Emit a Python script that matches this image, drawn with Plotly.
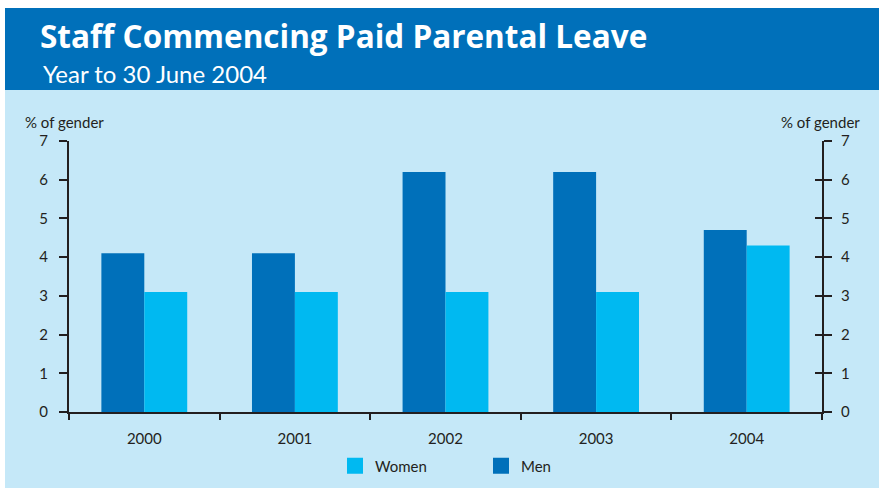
import plotly.graph_objects as go

# Data
years = ["2000", "2001", "2002", "2003", "2004"]
men = [4.1, 4.1, 6.2, 6.2, 4.7]
women = [3.1, 3.1, 3.1, 3.1, 4.3]
y_ticks = [0, 1, 2, 3, 4, 5, 6, 7]

W, H = 879, 488
HEADER_BLUE = "#0070BA"
PANEL = "#C5E8F8"
MEN_C = "#0070BA"
WOMEN_C = "#00B9F1"
INK = "#231F20"
FONT = "Lato"


def px_x(x):
    return x / W


def px_y(y):
    return 1 - y / H


x_dom = [px_x(69), px_x(822)]
y_dom = [px_y(412), px_y(141)]

fig = go.Figure()
fig.add_trace(go.Bar(x=years, y=men, name="Men", marker_color=MEN_C,
                     marker_line_width=0, showlegend=False))
fig.add_trace(go.Bar(x=years, y=women, name="Women", marker_color=WOMEN_C,
                     marker_line_width=0, showlegend=False))

# legend entries with larger square swatches
fig.add_trace(go.Scatter(x=[None], y=[None], mode="markers", name="Women",
                         marker=dict(symbol="square", size=17, color=WOMEN_C)))
fig.add_trace(go.Scatter(x=[None], y=[None], mode="markers", name="Men",
                         marker=dict(symbol="square", size=17, color=MEN_C)))

tickfont = dict(family=FONT, size=15, color=INK)

fig.update_layout(
    width=W, height=H, autosize=False,
    margin=dict(l=0, r=0, t=0, b=0, autoexpand=False),
    paper_bgcolor="white",
    plot_bgcolor=PANEL,
    barmode="group",
    bargap=0.43,
    bargroupgap=0,
    xaxis=dict(domain=x_dom, showline=True, linecolor=INK, linewidth=2,
               ticks="outside", tickson="boundaries", ticklen=6, tickwidth=2,
               tickcolor=INK, tickfont=tickfont, showgrid=False,
               fixedrange=True, ticklabelstandoff=12, automargin=False),
    yaxis=dict(domain=y_dom, range=[0, 7], tickvals=y_ticks, showline=True,
               linecolor=INK, linewidth=2, ticks="outside", ticklen=8,
               tickwidth=2, tickcolor=INK, tickfont=tickfont, showgrid=False,
               zeroline=False, ticklabelstandoff=8, automargin=False),
    yaxis2=dict(domain=y_dom, range=[0, 7], tickvals=y_ticks, overlaying="y",
                side="right", anchor="x", showline=True, linecolor=INK,
                linewidth=2, ticks="outside", ticklen=8, tickwidth=2,
                tickcolor=INK, tickfont=tickfont, showgrid=False,
                zeroline=False, ticklabelstandoff=6, automargin=False),
    yaxis3=dict(domain=y_dom, range=[0, 7], tickvals=y_ticks, overlaying="y",
                side="right", anchor="x", showline=False, ticks="inside",
                ticklen=7, tickwidth=2, tickcolor=INK, showticklabels=False,
                showgrid=False, zeroline=False, automargin=False),
    legend=dict(orientation="h", x=px_x(335), y=px_y(466), yanchor="middle",
                xanchor="left", font=dict(family=FONT, size=15, color=INK),
                bgcolor="rgba(0,0,0,0)", entrywidth=101,
                entrywidthmode="pixels", itemclick=False),
    shapes=[
        # light panel behind the whole chart area
        dict(type="rect", xref="paper", yref="paper", x0=px_x(5), x1=1,
             y0=0, y1=px_y(90), fillcolor=PANEL, line_width=0, layer="below"),
        # header band
        dict(type="rect", xref="paper", yref="paper", x0=px_x(5), x1=1,
             y0=px_y(90), y1=px_y(8), fillcolor=HEADER_BLUE, line_width=0,
             layer="below"),
    ],
    annotations=[
        dict(text="<b>Staff Commencing Paid Parental Leave</b>", xref="paper",
             yref="paper", x=px_x(38), y=px_y(36), xanchor="left",
             yanchor="middle", showarrow=False,
             font=dict(family="Open Sans", size=31.5, color="white")),
        dict(text="Year to 30 June 2004", xref="paper", yref="paper",
             x=px_x(41), y=px_y(73), xanchor="left", yanchor="middle",
             showarrow=False, font=dict(family=FONT, size=24, color="white")),
        dict(text="% of gender", xref="paper", yref="paper", x=px_x(23),
             y=px_y(122), xanchor="left", yanchor="middle", showarrow=False,
             font=dict(family=FONT, size=15, color=INK)),
        dict(text="% of gender", xref="paper", yref="paper", x=px_x(862),
             y=px_y(122), xanchor="right", yanchor="middle", showarrow=False,
             font=dict(family=FONT, size=15, color=INK)),
    ],
)

# invisible traces that carry the right-hand axes
fig.add_trace(go.Scatter(x=[years[0]], y=[0], yaxis="y2", mode="markers",
                         marker=dict(opacity=0), showlegend=False,
                         hoverinfo="skip"))
fig.add_trace(go.Scatter(x=[years[0]], y=[0], yaxis="y3", mode="markers",
                         marker=dict(opacity=0), showlegend=False,
                         hoverinfo="skip"))

fig.write_html("out.html")
